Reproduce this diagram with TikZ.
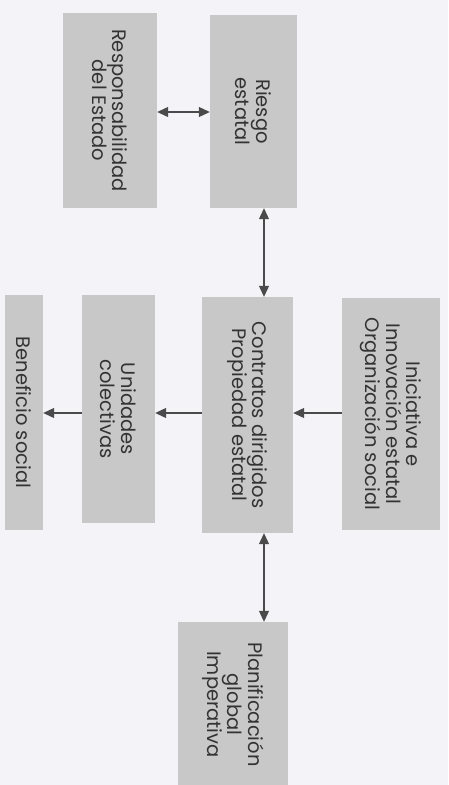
\documentclass[tikz,border=0pt]{standalone}
\usepackage{fontspec}
\setmainfont{Poppins}
\usetikzlibrary{arrows.meta}
\definecolor{bg}{HTML}{F4F3F8}
\definecolor{boxfill}{HTML}{C8C8C8}
\definecolor{ink}{HTML}{333333}
\definecolor{arrowc}{HTML}{4A4A4A}
\tikzset{
  box/.style={fill=boxfill, rotate=-90, align=center, text=ink, inner sep=0pt,
    font=\fontsize{19.5}{20.5}\selectfont},
  link/.style={draw=arrowc, line width=1.1pt, -{Triangle[length=11pt,width=10pt]}},
  dlink/.style={draw=arrowc, line width=1.1pt, {Triangle[length=11pt,width=10pt]}-{Triangle[length=11pt,width=10pt]}}
}
\begin{document}
\begin{tikzpicture}[x=1pt,y=-1pt]
\fill[bg] (0,0) rectangle (448,785);
\useasboundingbox (0,0) rectangle (448,785);
% boxes: minimum width = vertical extent, minimum height = horizontal extent
\node[box, minimum width=195pt, minimum height=94pt] (resp) at (110,110.5) {Responsabilidad\\del Estado};
\node[box, minimum width=193pt, minimum height=87pt] (riesgo) at (253.5,111.5) {Riesgo\\estatal};
\node[box, minimum width=235pt, minimum height=38pt] (benef) at (24,412.5) {Beneficio social};
\node[box, minimum width=228pt, minimum height=73pt] (unid) at (118.5,409) {Unidades\\colectivas};
\node[box, minimum width=236pt, minimum height=91pt] (contr) at (247.5,415) {Contratos dirigidos\\Propiedad estatal};
\node[box, minimum width=232pt, minimum height=98pt] (inic) at (391,414) {Iniciativa e\\Innovación estatal\\Organización social};
\node[box, minimum width=165pt, minimum height=110pt] (plan) at (233,704.5) {Planificación\\global\\Imperativa};
\coordinate (vx) at (264,0);
\coordinate (hy) at (0,112);
\coordinate (hz) at (0,413);
% connectors
\draw[dlink] (hy -| resp.north) -- (hy -| riesgo.south);
\draw[dlink] (vx |- riesgo.east) -- (vx |- contr.west);
\draw[dlink] (vx |- contr.east) -- (vx |- plan.west);
\draw[link] (hz -| inic.south) -- (hz -| contr.north);
\draw[link] (hz -| contr.south) -- (hz -| unid.north);
\draw[link] (hz -| unid.south) -- (hz -| benef.north);
\end{tikzpicture}
\end{document}
